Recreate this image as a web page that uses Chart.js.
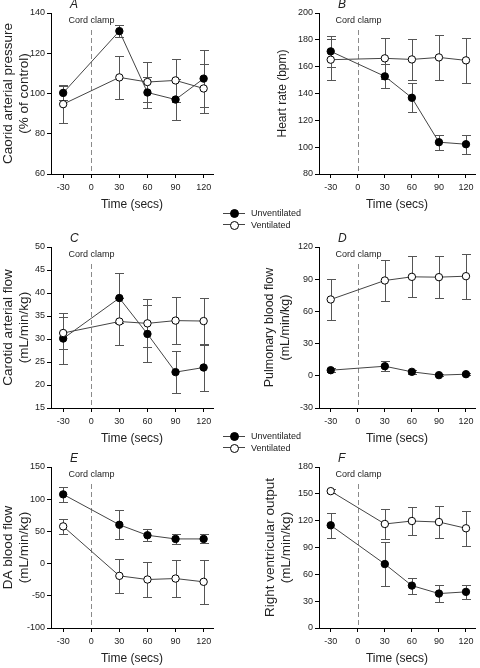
<!DOCTYPE html>
<html>
<head>
<meta charset="utf-8">
<script src="https://cdn.jsdelivr.net/npm/chart.js@4.4.1/dist/chart.umd.min.js"></script>
<style>
html,body{margin:0;padding:0;background:#fff;}
body{width:480px;height:668px;overflow:hidden;position:relative;font-family:"Liberation Sans",Arial,sans-serif;}
canvas.panel{position:absolute;}
.legend{position:absolute;left:223px;width:90px;height:26px;z-index:5;}
.lrow{position:absolute;left:0;height:12px;width:90px;}
.lline{position:absolute;left:0;top:5.5px;width:22px;height:1px;background:#444;}
.lmark{position:absolute;left:7px;top:2px;width:7px;height:7px;border:1px solid #000;border-radius:50%;box-sizing:content-box;}
.ltext{position:absolute;left:28px;top:0;font-size:9px;line-height:12px;color:#222;white-space:nowrap;}
</style>
</head>
<body>
<canvas id="pA" class="panel" width="240" height="222" style="left:0;top:-7px"></canvas>
<canvas id="pB" class="panel" width="240" height="222" style="left:240px;top:-7px"></canvas>
<canvas id="pC" class="panel" width="240" height="222" style="left:0;top:227px"></canvas>
<canvas id="pD" class="panel" width="240" height="222" style="left:240px;top:227px"></canvas>
<canvas id="pE" class="panel" width="240" height="222" style="left:0;top:447px"></canvas>
<canvas id="pF" class="panel" width="240" height="222" style="left:240px;top:447px"></canvas>
<div id="leg1" class="legend" style="top:207px"></div>
<div id="leg2" class="legend" style="top:430px"></div>
<script>
// ---------- data ----------
const times = [-30, 30, 60, 90, 120];
const xTicks = [-30, 0, 30, 60, 90, 120];
const clampTime = 0;
const clampLabel = 'Cord clamp';
const xTitle = 'Time (secs)';
const seriesNames = ['Unventilated', 'Ventilated'];

// A: carotid arterial pressure (% of control)
const pressureUnvent = [100.3, 131, 100.5, 97, 107.4];
const pressureUnventErr = [3.5, 3, 7.5, 10, 14.3];
const pressureVent = [94.7, 108, 105.7, 106.5, 102.5];
const pressureVentErr = [9.5, 10.5, 10, 10.7, 12];

// B: heart rate (bpm)
const hrUnvent = [171.4, 152.8, 136.8, 103.7, 102.2];
const hrUnventErr = [11.5, 9, 10.7, 5.6, 7];
const hrVent = [165.2, 166.2, 165.4, 166.9, 164.7];
const hrVentErr = [15.5, 15.3, 15.3, 16.5, 16.8];

// C: carotid arterial flow (mL/min/kg)
const cafUnvent = [30.1, 38.9, 31.1, 22.8, 23.8];
const cafUnventErr = [5.5, 5.4, 6.2, 4.6, 5];
const cafVent = [31.3, 33.8, 33.4, 34, 33.9];
const cafVentErr = [3.5, 5.1, 5.2, 5.1, 5];

// D: pulmonary blood flow (mL/min/kg)
const pbfUnvent = [5.2, 8.9, 3.7, 0.6, 1.5];
const pbfUnventErr = [2, 4.5, 2, 1, 1];
const pbfVent = [71.1, 88.8, 92.2, 91.9, 92.8];
const pbfVentErr = [19, 18.7, 19, 19.6, 21];

// E: DA blood flow (mL/min/kg)
const daUnvent = [107.5, 60.3, 44, 38.3, 38.3];
const daUnventErr = [12, 22.5, 9.5, 8, 7];
const daVent = [57.8, -19, -24.7, -23.2, -28.3];
const daVentErr = [11.3, 26.5, 27.5, 29, 34.5];

// F: right ventricular output (mL/min/kg)
const rvoUnvent = [114.8, 71.5, 47.4, 38.5, 40.4];
const rvoUnventErr = [14, 25, 9, 9.5, 8];
const rvoVent = [153, 116.3, 119.6, 118.5, 111.5];
const rvoVentErr = [2, 17, 16, 18, 19.5];

// ---------- drawing ----------
const FAMILY = '"Liberation Sans", Arial, sans-serif';

const errorBars = {
  id: 'errorBars',
  beforeDatasetsDraw(chart) {
    const {ctx, scales: {x, y}} = chart;
    ctx.save();
    ctx.strokeStyle = '#555';
    ctx.lineWidth = 1;
    chart.data.datasets.forEach(ds => {
      ds.data.forEach((p, i) => {
        const e = ds.err[i];
        const px = Math.round(x.getPixelForValue(p.x)) + 0.5;
        const t = Math.round(y.getPixelForValue(p.y + e)) + 0.5;
        const b = Math.round(y.getPixelForValue(p.y - e)) + 0.5;
        ctx.beginPath();
        ctx.moveTo(px, t); ctx.lineTo(px, b);
        ctx.moveTo(px - 4.5, t); ctx.lineTo(px + 4.5, t);
        ctx.moveTo(px - 4.5, b); ctx.lineTo(px + 4.5, b);
        ctx.stroke();
      });
    });
    ctx.restore();
  }
};

const clampMark = {
  id: 'clampMark',
  beforeDatasetsDraw(chart) {
    const {ctx, chartArea, scales: {x}} = chart;
    const px = Math.round(x.getPixelForValue(clampTime)) + 0.5;
    ctx.save();
    ctx.strokeStyle = '#8a8a8a';
    ctx.lineWidth = 1;
    ctx.setLineDash([5, 3]);
    ctx.beginPath();
    ctx.moveTo(px, chartArea.top + 17);
    ctx.lineTo(px, chartArea.bottom);
    ctx.stroke();
    ctx.setLineDash([]);
    ctx.fillStyle = '#222';
    ctx.font = '9px ' + FAMILY;
    ctx.textAlign = 'center';
    ctx.textBaseline = 'middle';
    ctx.fillText(clampLabel, px, chartArea.top + 8);
    const letter = chart.options.plugins.clampMark.letter;
    ctx.font = 'italic 12px ' + FAMILY;
    ctx.textAlign = 'left';
    ctx.fillText(letter, chartArea.left + 19, chartArea.top - 8);
    ctx.restore();
  }
};

function makePanel(id, cfg) {
  const mk = (vals, errs, filled, name, order) => ({
    label: name,
    data: times.map((t, i) => ({x: t, y: vals[i]})),
    err: errs,
    borderColor: '#444',
    borderWidth: 1,
    pointRadius: 3.7,
    pointBorderWidth: 1,
    pointBorderColor: '#000',
    pointBackgroundColor: filled ? '#000' : '#fff',
    tension: 0,
    order: order
  });
  const tickFont = {size: 9, family: FAMILY};
  new Chart(document.getElementById(id), {
    type: 'line',
    data: {
      datasets: [
        mk(cfg.unvent, cfg.unventErr, true, seriesNames[0], 1),
        mk(cfg.vent, cfg.ventErr, false, seriesNames[1], 0)
      ]
    },
    options: {
      responsive: false,
      animation: false,
      devicePixelRatio: 1,
      events: [],
      layout: {padding: {top: 20, right: cfg.padRight, left: 0, bottom: 0}},
      plugins: {legend: {display: false}, tooltip: {enabled: false}, clampMark: {letter: cfg.letter}},
      scales: {
        x: {
          type: 'linear', min: -43, max: 130,
          afterBuildTicks: s => { s.ticks = xTicks.map(v => ({value: v})); },
          afterFit: s => { s.height = 41; },
          grid: {display: true, drawOnChartArea: false, drawTicks: true, tickLength: 4, color: '#000'},
          border: {display: true, color: '#000', width: 1},
          ticks: {font: tickFont, color: '#222', padding: 4, maxRotation: 0, autoSkip: false},
          title: {display: true, text: xTitle, color: '#222', font: {size: 12, family: FAMILY, lineHeight: '16px'}, padding: {top: 0, bottom: 2}}
        },
        y: {
          type: 'linear', min: cfg.min, max: cfg.max,
          afterFit: s => { s.width = cfg.yWidth; },
          grid: {display: true, drawOnChartArea: false, drawTicks: true, tickLength: 4, color: '#000'},
          border: {display: true, color: '#000', width: 1},
          ticks: {stepSize: cfg.step, font: tickFont, color: '#222', padding: 2},
          title: {display: true, text: cfg.yTitle, color: '#222', font: {size: cfg.titleSize, family: FAMILY, lineHeight: '16px'}, padding: {top: cfg.titlePad, bottom: 0}}
        }
      }
    },
    plugins: [clampMark, errorBars]
  });
}

makePanel('pA', {letter: 'A', unvent: pressureUnvent, unventErr: pressureUnventErr, vent: pressureVent, ventErr: pressureVentErr,
  min: 60, max: 140, step: 20, yTitle: ['Caorid arterial pressure', '(% of control)'], yWidth: 51, padRight: 27, titlePad: 0, titleSize: 13.5});
makePanel('pB', {letter: 'B', unvent: hrUnvent, unventErr: hrUnventErr, vent: hrVent, ventErr: hrVentErr,
  min: 80, max: 200, step: 20, yTitle: 'Heart rate (bpm)', yWidth: 79, padRight: 1, titlePad: 35, titleSize: 12});
makePanel('pC', {letter: 'C', unvent: cafUnvent, unventErr: cafUnventErr, vent: cafVent, ventErr: cafVentErr,
  min: 15, max: 50, step: 5, yTitle: ['Carotid arterial flow', '(mL/min/kg)'], yWidth: 51, padRight: 27, titlePad: 0, titleSize: 13.5});
makePanel('pD', {letter: 'D', unvent: pbfUnvent, unventErr: pbfUnventErr, vent: pbfVent, ventErr: pbfVentErr,
  min: -30, max: 120, step: 30, yTitle: ['Pulmonary blood flow', '(mL/min/kg)'], yWidth: 79, padRight: 1, titlePad: 22, titleSize: 12.5});
makePanel('pE', {letter: 'E', unvent: daUnvent, unventErr: daUnventErr, vent: daVent, ventErr: daVentErr,
  min: -100, max: 150, step: 50, yTitle: ['DA blood flow', '(mL/min/kg)'], yWidth: 51, padRight: 27, titlePad: 0, titleSize: 13.5});
makePanel('pF', {letter: 'F', unvent: rvoUnvent, unventErr: rvoUnventErr, vent: rvoVent, ventErr: rvoVentErr,
  min: 0, max: 180, step: 30, yTitle: ['Right ventricular output', '(mL/min/kg)'], yWidth: 79, padRight: 1, titlePad: 22, titleSize: 13.5});

// ---------- legends (HTML) ----------
function buildLegend(el) {
  seriesNames.forEach((name, i) => {
    const row = document.createElement('div');
    row.className = 'lrow';
    row.style.top = (i * 11.8) + 'px';
    const line = document.createElement('div'); line.className = 'lline';
    const mark = document.createElement('div'); mark.className = 'lmark';
    mark.style.background = i === 0 ? '#000' : '#fff';
    const txt = document.createElement('div'); txt.className = 'ltext'; txt.textContent = name;
    row.appendChild(line); row.appendChild(mark); row.appendChild(txt);
    el.appendChild(row);
  });
}
buildLegend(document.getElementById('leg1'));
buildLegend(document.getElementById('leg2'));
</script>
</body>
</html>
